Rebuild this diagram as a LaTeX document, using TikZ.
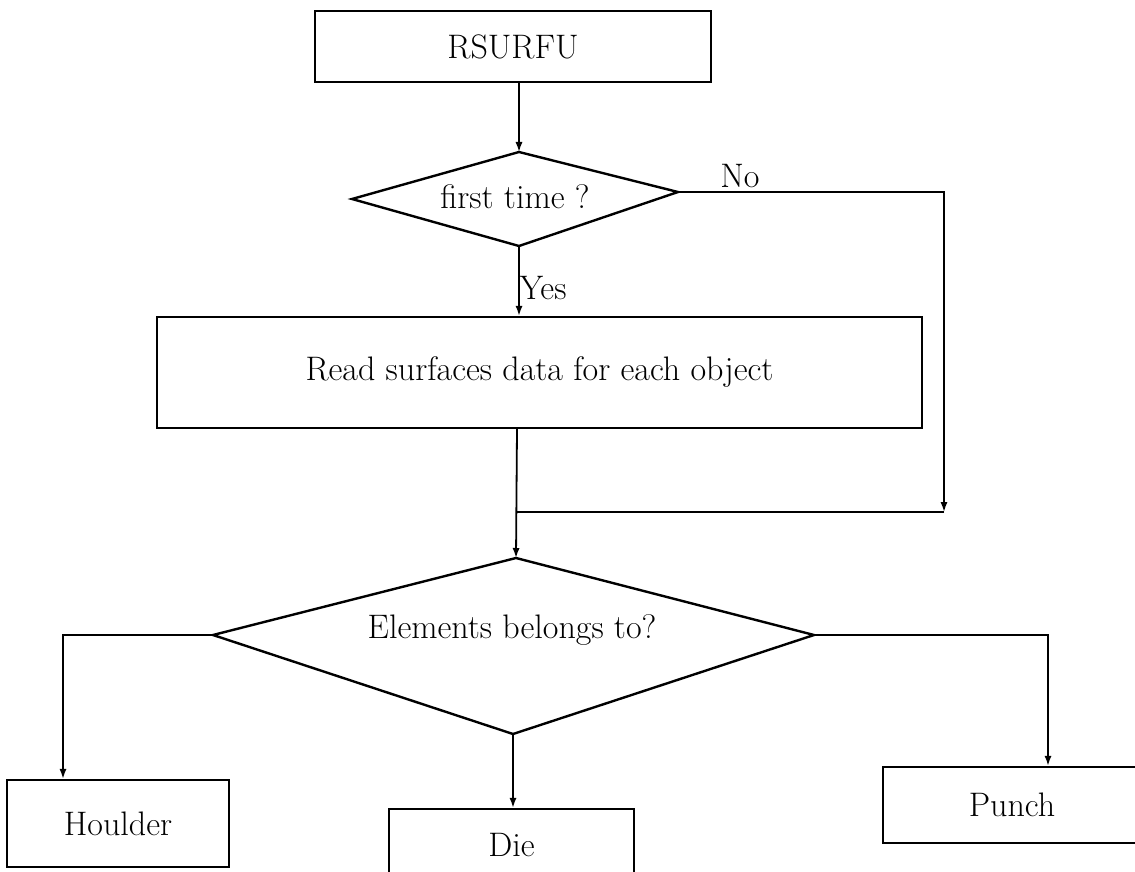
\documentclass[tikz,border=0pt]{standalone}
\usetikzlibrary{arrows.meta}
\begin{document}
\begin{tikzpicture}[x=0.5pt,y=-0.5pt,
  box/.style={draw,line width=1.2pt,inner sep=0pt,font=\fontsize{17}{20}\selectfont},
  lbl/.style={inner sep=0pt,font=\fontsize{17}{20}\selectfont},
  conn/.style={line width=0.9pt},
  arr/.style={conn,-{Latex[length=5pt,width=3.6pt]}},
  dia/.style={line width=1.2pt,line join=miter}]
\fill[white] (0,0) rectangle (1135,872);
\useasboundingbox (0,0) rectangle (1135,872);
% boxes
\node[box,minimum width=198pt,minimum height=35.5pt] (rs) at (513,46.5) {RSURFU};
\node[box,minimum width=382.5pt,minimum height=55.5pt] (rd) at (539.5,372.5) {Read surfaces data for each object};
\node[box,minimum width=111pt,minimum height=43.5pt] (ho) at (118,823.5) {Houlder};
\node[box,minimum width=122.5pt,minimum height=36pt] (di) at (511.5,845) {Die};
\node[box,minimum width=129pt,minimum height=38pt] (pu) at (1012,805) {Punch};
% diamond 1
\coordinate (d1t) at (519,152);
\coordinate (d1l) at (352,199);
\coordinate (d1r) at (678,192);
\coordinate (d1b) at (519,246);
\draw[dia] (d1t) -- (d1r) -- (d1b) -- (d1l) -- cycle;
\node[lbl] (d1) at (515,197) {first time ?};
% diamond 2
\coordinate (d2t) at (516,558);
\coordinate (d2l) at (213,635);
\coordinate (d2r) at (814,635);
\coordinate (d2b) at (513,734);
\draw[dia] (d2t) -- (d2r) -- (d2b) -- (d2l) -- cycle;
\node[lbl] (d2) at (512,630) {Elements belongs to?};
% helper coordinates
\coordinate (nocorner) at (944,192);
\coordinate (noend) at (944,512);
\coordinate (merge) at (517,512);
\coordinate (hocorner) at (63,635);
\coordinate (pucorner) at (1048,635);
% connectors
\draw[arr] (rs.south -| d1t) -- (d1t);
\draw[arr] (d1b) -- (rd.north -| d1b);
\node[lbl] (yes) at (543,288) {Yes};
\draw[arr] (d1r) -- (nocorner) -- (noend);
\node[lbl] (no) at (740,176) {No};
\draw[conn] (noend) -- (merge);
\draw[arr] (rd.south -| merge) -- (d2t);
\draw[arr] (d2l) -- (hocorner) -- (ho.north -| hocorner);
\draw[arr] (d2b) -- (di.north -| d2b);
\draw[arr] (d2r) -- (pucorner) -- (pu.north -| pucorner);
\end{tikzpicture}
\end{document}
